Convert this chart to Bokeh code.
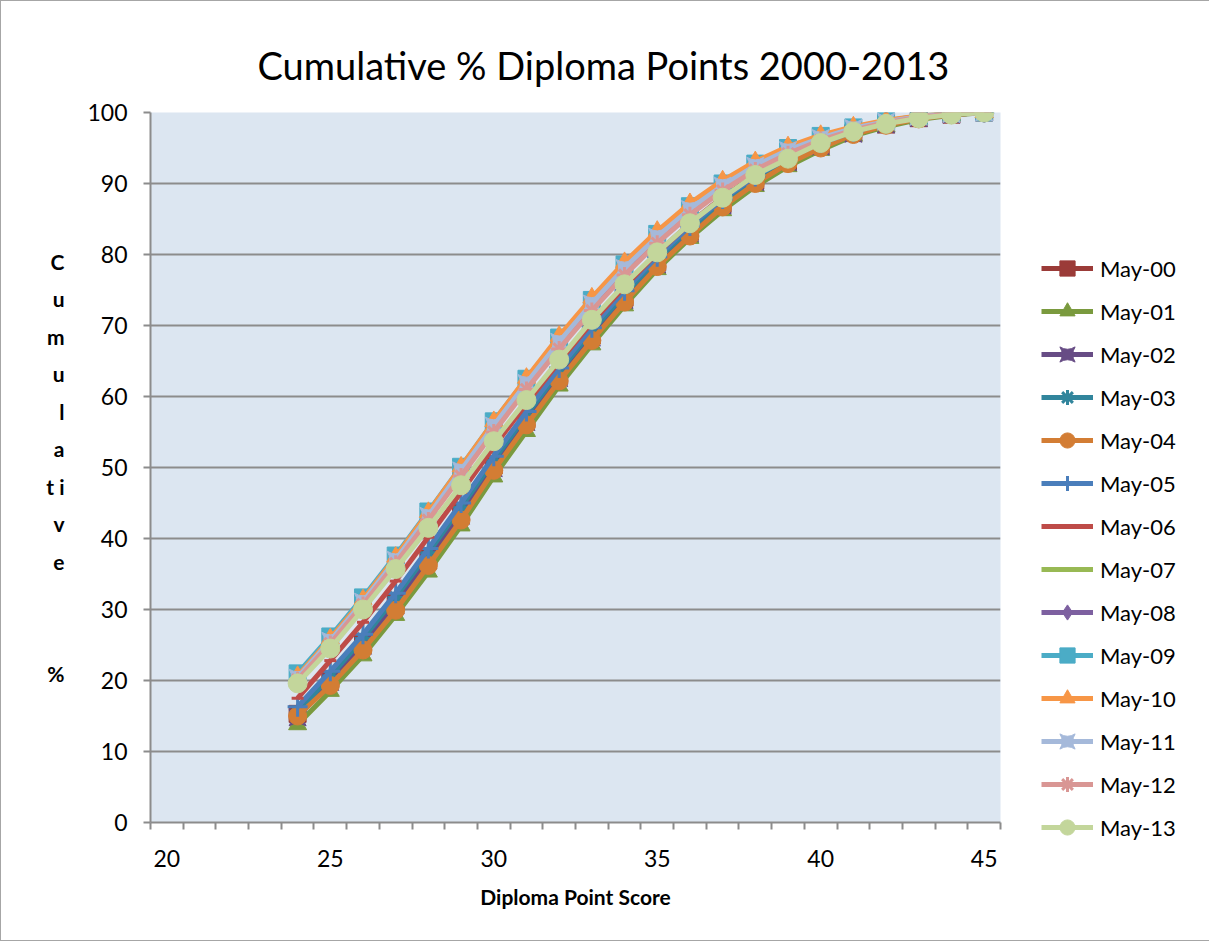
from bokeh.plotting import figure
from bokeh.models import Range1d, FixedTicker, Legend, LegendItem, Title
from bokeh.embed import file_html
from bokeh.resources import INLINE

points = list(range(24, 46))
x_ticks = [20, 25, 30, 35, 40, 45]
y_ticks = list(range(0, 101, 10))

series_names = ["May-00", "May-01", "May-02", "May-03", "May-04", "May-05", "May-06",
                "May-07", "May-08", "May-09", "May-10", "May-11", "May-12", "May-13"]

may_00 = [15.3, 20.2, 25.3, 31.2, 37.5, 43.8, 50.3, 56.8, 62.9, 68.6, 73.9, 78.9, 83.2, 87.1, 90.4, 93.1, 95.3, 97.1, 98.3, 99.2, 99.7, 100]
may_01 = [13.8, 18.5, 23.5, 29.2, 35.3, 41.8, 48.7, 55.1, 61.5, 67.3, 72.8, 77.9, 82.3, 86.2, 89.6, 92.4, 94.7, 96.7, 98.0, 99.0, 99.6, 100]
may_02 = [14.8, 19.8, 24.9, 30.6, 36.9, 43.2, 49.9, 56.4, 62.6, 68.3, 73.6, 78.6, 83.0, 86.9, 90.2, 93.0, 95.2, 97.0, 98.3, 99.2, 99.7, 100]
may_03 = [15.6, 20.6, 25.9, 31.7, 38.0, 44.4, 51.0, 57.4, 63.5, 69.2, 74.4, 79.3, 83.6, 87.5, 90.7, 93.4, 95.5, 97.2, 98.4, 99.3, 99.8, 100]
may_04 = [15.0, 19.3, 24.3, 29.9, 36.2, 42.6, 49.6, 56.0, 62.2, 67.9, 73.3, 78.3, 82.6, 86.7, 90.0, 92.8, 95.0, 96.9, 98.2, 99.1, 99.7, 100]
may_05 = [16.3, 21.3, 26.5, 32.3, 38.6, 45.0, 51.6, 57.9, 64.0, 69.7, 74.9, 79.7, 84.0, 87.8, 91.0, 93.6, 95.7, 97.3, 98.5, 99.3, 99.8, 100]
may_06 = [17.5, 22.8, 28.2, 34.0, 40.2, 46.5, 52.9, 59.0, 64.9, 70.4, 75.5, 80.2, 84.4, 88.1, 91.2, 93.8, 95.8, 97.4, 98.5, 99.3, 99.8, 100]
may_07 = [20.0, 25.2, 30.8, 36.7, 42.9, 49.2, 55.5, 61.5, 67.3, 72.7, 77.6, 82.0, 85.9, 89.2, 92.1, 94.4, 96.2, 97.6, 98.6, 99.4, 99.8, 100]
may_08 = [20.3, 25.5, 31.0, 36.9, 43.1, 49.4, 55.7, 61.7, 67.5, 72.9, 77.8, 82.2, 86.1, 89.4, 92.2, 94.5, 96.3, 97.7, 98.7, 99.4, 99.8, 100]
may_09 = [21.0, 26.2, 31.7, 37.6, 43.8, 50.1, 56.5, 62.5, 68.3, 73.6, 78.6, 82.9, 86.8, 90.0, 92.8, 95.0, 96.7, 97.9, 98.8, 99.5, 99.9, 100]
may_10 = [20.6, 25.9, 31.4, 37.4, 43.7, 50.1, 56.5, 62.6, 68.5, 73.9, 78.9, 83.3, 87.2, 90.4, 93.1, 95.2, 96.8, 98.0, 98.9, 99.5, 99.9, 100]
may_11 = [20.4, 25.6, 31.1, 37.0, 43.2, 49.6, 55.9, 61.9, 67.7, 73.1, 78.1, 82.5, 86.4, 89.7, 92.5, 94.7, 96.4, 97.8, 98.7, 99.4, 99.8, 100]
may_12 = [20.1, 25.2, 30.7, 36.5, 42.6, 48.8, 55.0, 61.0, 66.7, 72.1, 77.1, 81.6, 85.6, 89.0, 91.9, 94.2, 96.1, 97.5, 98.6, 99.3, 99.8, 100]
may_13 = [19.6, 24.5, 30.0, 35.7, 41.5, 47.5, 53.7, 59.5, 65.2, 70.8, 75.8, 80.3, 84.4, 88.0, 91.2, 93.5, 95.7, 97.3, 98.4, 99.2, 99.7, 100]

series_values = [may_00, may_01, may_02, may_03, may_04, may_05, may_06,
                 may_07, may_08, may_09, may_10, may_11, may_12, may_13]

colors = ["#9B3B38", "#7A9A3E", "#674C85", "#31859C", "#D37D34", "#4A7EBB", "#BE4B48",
          "#98B954", "#7D60A0", "#4BACC6", "#F79646", "#A5B9DA", "#D99694", "#C3D69B"]
markers = ["square", "triangle", "square_pin", "asterisk", "circle", "cross", "dash",
           "dash", "diamond", "square", "triangle", "square_pin", "asterisk", "circle"]
sizes = [17, 18, 17, 16, 18, 20, 12, 16, 20, 17, 18, 17, 16, 19]

FONT = "Lato"

p = figure(frame_width=850, frame_height=710, output_backend="svg", toolbar_location=None,
           x_range=Range1d(19.5, 45.5), y_range=Range1d(0, 100),
           min_border_left=149, min_border_right=0, min_border_top=111, min_border_bottom=118,
           background_fill_color="#DCE6F1", border_fill_color="white",
           styles={"border": "1px solid #A6A6A6"})
p.outline_line_color = None

# title
title = Title(text="Cumulative % Diploma Points 2000-2013", text_font=FONT,
              text_font_size="38px", text_font_style="normal", text_color="black",
              align="left", offset=107, standoff=50)
p.title = title

# axes
p.xaxis.ticker = FixedTicker(ticks=x_ticks, minor_ticks=[v + 0.5 for v in range(19, 46)])
p.yaxis.ticker = FixedTicker(ticks=y_ticks)
for ax in (p.xaxis, p.yaxis):
    ax.axis_line_color = "#8C8C8C"
    ax.axis_line_width = 2
    ax.major_label_text_font = FONT
    ax.major_label_text_font_size = "23px"
    ax.major_label_text_color = "black"
    ax.major_tick_line_color = "#8C8C8C"
    ax.minor_tick_line_color = "#8C8C8C"
    ax.major_tick_line_width = 2
    ax.minor_tick_line_width = 2
    ax.axis_label_text_font = FONT
    ax.axis_label_text_font_style = "bold"
    ax.axis_label_text_color = "black"
p.xaxis.major_tick_out = 0
p.xaxis.major_tick_in = 0
p.xaxis.minor_tick_out = 7
p.xaxis.minor_tick_in = 0
p.xaxis.major_label_standoff = 20
p.xaxis.axis_label = "Diploma Point Score"
p.xaxis.axis_label_text_font_size = "21px"
p.xaxis.axis_label_standoff = 14
p.yaxis.major_tick_out = 7
p.yaxis.major_tick_in = 0
p.yaxis.minor_tick_out = 0
p.yaxis.minor_tick_in = 0
p.yaxis.major_label_standoff = 16
p.yaxis.axis_label = "C\nu\nm\nu\nl\na\nt i\nv\ne\n\n\n%"
p.yaxis.axis_label_orientation = "horizontal"
p.yaxis.axis_label_text_font_size = "21px"
p.yaxis.axis_label_text_line_height = 1.50
p.yaxis.axis_label_text_align = "center"
p.yaxis.axis_label_standoff = 20

p.xgrid.visible = False
p.ygrid.grid_line_color = "#8C8C8C"
p.ygrid.grid_line_width = 2

items = []
for name, vals, col, mk, sz in zip(series_names, series_values, colors, markers, sizes):
    lr = p.line(points, vals, line_color=col, line_width=5)
    sr = p.scatter(points, vals, marker=mk, size=sz, fill_color=col, line_color=col,
                   line_width=3 if mk in ("asterisk", "cross", "dash") else 1)
    items.append(LegendItem(label=name, renderers=[lr, sr]))

legend = Legend(items=items, location=(41, -24), orientation="vertical",
                label_text_font=FONT, label_text_font_size="22px", label_text_color="black",
                glyph_width=52, glyph_height=38, label_height=22, spacing=5,
                label_standoff=7, padding=5, margin=0,
                background_fill_color="white", border_line_color=None)
p.add_layout(legend, "right")

open("out.html", "w").write(file_html(p, INLINE))
